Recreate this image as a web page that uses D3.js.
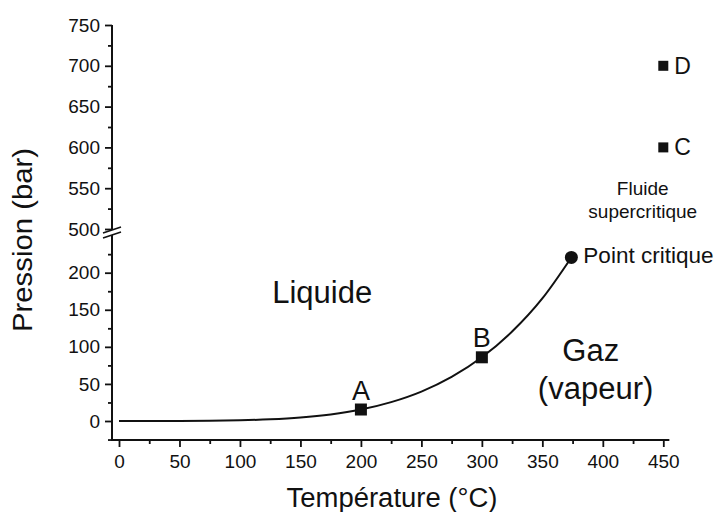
<!DOCTYPE html>
<html>
<head>
    <meta charset="utf-8">
    <title>Diagramme de phase de l'eau</title>
    <script src="https://d3js.org/d3.v7.min.js"></script>
    <style>
        body { margin: 0; background: #fff; }
        svg text { font-family: 'Liberation Sans', Arial, sans-serif; fill: #111; }
    </style>
</head>
<body>
    <svg id="chart" width="719" height="512"></svg>

    <script>
        // courbe de vaporisation (°C, bar)
        const curveT = [0, 25, 50, 75, 100, 125, 150, 175, 200, 225, 250, 275, 300, 325, 350, 374];
        const curveP = [0.006, 0.03, 0.12, 0.39, 1.01, 2.32, 4.76, 8.92, 15.5, 25.5, 39.7, 59.5, 85.9, 120.6, 165.3, 220.6];

        const pointNames = ["A", "B"];
        const pointT = [200, 300];
        const pointP = [15.5, 85.9];

        const superNames = ["C", "D"];
        const superT = [450, 450];
        const superP = [600, 700];

        const critT = 374;
        const critP = 220.6;

        const xTicks = [0, 50, 100, 150, 200, 250, 300, 350, 400, 450];
        const xMinor = [25, 75, 125, 175, 225, 275, 325, 375, 425];
        const yLowTicks = [0, 50, 100, 150, 200];
        const yLowMinor = [-25, 25, 75, 125, 175, 225];
        const yHighTicks = [500, 550, 600, 650, 700, 750];
        const yHighMinor = [525, 575, 625, 675, 725];

        const svg = d3.select("#chart");
        const ink = "#111";

        let x = d3.scaleLinear().domain([0, 450]).range([119, 663.3]);
        // axe brisé : deux échelles
        let yLow = d3.scaleLinear().domain([0, 200]).range([421, 272.7]);
        let yHigh = d3.scaleLinear().domain([500, 750]).range([229, 25]);

        const axisX = 112;
        const axisY = 440;

        // axe X
        let gx = svg.append("g").attr("transform", `translate(0,${axisY})`);
        gx.call(d3.axisBottom(x).tickValues(xTicks).tickSize(7).tickPadding(8).tickFormat(d3.format("d")));
        let gxm = svg.append("g").attr("transform", `translate(0,${axisY})`);
        gxm.call(d3.axisBottom(x).tickValues(xMinor).tickSize(4).tickFormat(""));

        // axe Y, partie basse et partie haute
        let gyl = svg.append("g").attr("transform", `translate(${axisX},0)`);
        gyl.call(d3.axisLeft(yLow).tickValues(yLowTicks).tickSize(7).tickPadding(5));
        let gylm = svg.append("g").attr("transform", `translate(${axisX},0)`);
        gylm.call(d3.axisLeft(yLow).tickValues(yLowMinor).tickSize(4).tickFormat(""));
        let gyh = svg.append("g").attr("transform", `translate(${axisX},0)`);
        gyh.call(d3.axisLeft(yHigh).tickValues(yHighTicks).tickSize(7).tickPadding(5));
        let gyhm = svg.append("g").attr("transform", `translate(${axisX},0)`);
        gyhm.call(d3.axisLeft(yHigh).tickValues(yHighMinor).tickSize(4).tickFormat(""));

        svg.selectAll(".domain").remove();
        svg.selectAll(".tick line").attr("stroke", ink).attr("stroke-width", 1.8);
        svg.selectAll(".tick text").style("font-size", "19px").attr("fill", ink);

        // lignes d'axes
        svg.append("line")
            .attr("x1", axisX).attr("x2", x(455))
            .attr("y1", axisY).attr("y2", axisY)
            .attr("stroke", ink).attr("stroke-width", 2);
        svg.append("line")
            .attr("x1", axisX).attr("x2", axisX)
            .attr("y1", axisY + 1).attr("y2", yHigh(750))
            .attr("stroke", ink).attr("stroke-width", 2);

        // symbole de coupure
        svg.append("polygon")
            .attr("points", "103,233 121,227 121,232 103,238")
            .attr("fill", "#fff");
        svg.append("line").attr("x1", 103).attr("y1", 233).attr("x2", 121).attr("y2", 227)
            .attr("stroke", ink).attr("stroke-width", 1.6);
        svg.append("line").attr("x1", 103).attr("y1", 238).attr("x2", 121).attr("y2", 232)
            .attr("stroke", ink).attr("stroke-width", 1.6);

        // courbe
        let curve = curveT.map((t, i) => ({t: t, p: curveP[i]}));
        let line = d3.line()
            .x(d => x(d.t))
            .y(d => yLow(d.p))
            .curve(d3.curveMonotoneX);
        svg.append("path")
            .datum(curve)
            .attr("d", line)
            .attr("fill", "none")
            .attr("stroke", ink)
            .attr("stroke-width", 2);

        // points A et B
        let pts = pointNames.map((n, i) => ({n: n, t: pointT[i], p: pointP[i]}));
        svg.selectAll(".pt").data(pts).enter()
            .append("rect")
            .attr("x", d => x(d.t) - 6)
            .attr("y", d => yLow(d.p) - 6)
            .attr("width", 12).attr("height", 12)
            .attr("fill", ink);
        svg.selectAll(".ptlab").data(pts).enter()
            .append("text")
            .attr("x", d => x(d.t))
            .attr("y", d => yLow(d.p) - 10)
            .attr("text-anchor", "middle")
            .style("font-size", "27px")
            .text(d => d.n);

        // points C et D
        let sups = superNames.map((n, i) => ({n: n, t: superT[i], p: superP[i]}));
        svg.selectAll(".sup").data(sups).enter()
            .append("rect")
            .attr("x", d => x(d.t) - 5)
            .attr("y", d => yHigh(d.p) - 5)
            .attr("width", 10).attr("height", 10)
            .attr("fill", ink);
        svg.selectAll(".suplab").data(sups).enter()
            .append("text")
            .attr("x", d => x(d.t) + 11)
            .attr("y", d => yHigh(d.p) + 8)
            .style("font-size", "23px")
            .text(d => d.n);

        // point critique
        svg.append("circle")
            .attr("cx", x(critT)).attr("cy", yLow(critP))
            .attr("r", 6.5).attr("fill", ink);
        svg.append("text")
            .attr("x", x(critT) + 12).attr("y", yLow(critP) + 6)
            .style("font-size", "22.5px")
            .text("Point critique");

        // zones
        svg.append("text")
            .attr("x", x(168)).attr("y", yLow(159))
            .attr("text-anchor", "middle").style("font-size", "31px")
            .text("Liquide");
        svg.append("text")
            .attr("x", x(390)).attr("y", yLow(81))
            .attr("text-anchor", "middle").style("font-size", "31px")
            .text("Gaz");
        svg.append("text")
            .attr("x", x(394)).attr("y", yLow(30))
            .attr("text-anchor", "middle").style("font-size", "31px")
            .text("(vapeur)");
        svg.append("text")
            .attr("x", x(433)).attr("y", yHigh(542))
            .attr("text-anchor", "middle").style("font-size", "19px")
            .text("Fluide");
        svg.append("text")
            .attr("x", x(433)).attr("y", yHigh(513))
            .attr("text-anchor", "middle").style("font-size", "19px")
            .text("supercritique");

        // titres d'axes
        svg.append("text")
            .attr("x", 392).attr("y", 507)
            .attr("text-anchor", "middle").style("font-size", "27px")
            .attr("textLength", 211).attr("lengthAdjust", "spacingAndGlyphs")
            .text("Température (°C)");
        svg.append("text")
            .attr("transform", "translate(32,240) rotate(-90)")
            .attr("text-anchor", "middle").style("font-size", "27px")
            .attr("textLength", 184).attr("lengthAdjust", "spacingAndGlyphs")
            .text("Pression (bar)");
    </script>
</body>
</html>
